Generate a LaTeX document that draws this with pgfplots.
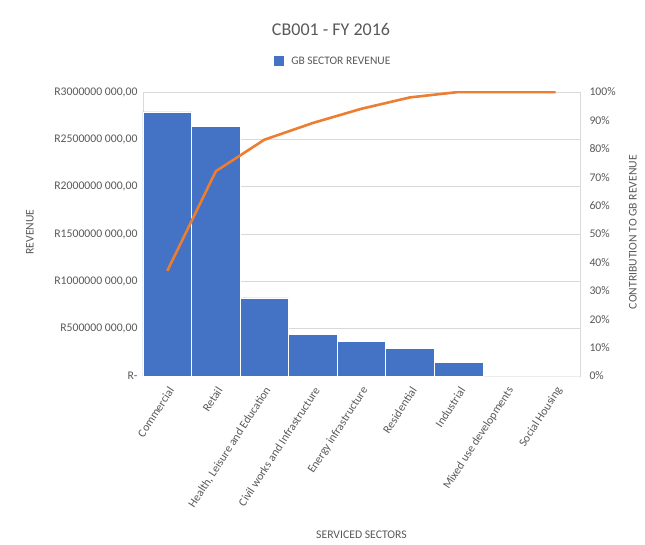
\documentclass[border=0pt]{standalone}
\usepackage{fontspec}
\setmainfont{Carlito}
\usepackage{pgfplots}
\pgfplotsset{compat=1.18}
\definecolor{barblue}{HTML}{4472C4}
\definecolor{lineorange}{HTML}{ED7D31}
\definecolor{txtgray}{HTML}{595959}
\definecolor{gridgray}{HTML}{D9D9D9}
\begin{document}
\begin{tikzpicture}
\path[use as bounding box] (-143pt,-168pt) rectangle (502pt,376pt);
\begin{axis}[
  scale only axis, width=437pt, height=284pt,
  xmin=-0.5, xmax=8.5, ymin=0, ymax=3000,
  axis line style={gridgray},
  ymajorgrids, grid style={gridgray, line width=0.8pt},
  major tick length=0pt,
  ytick={0,500,1000,1500,2000,2500,3000},
  yticklabels={R-,{R500000 000,00},{R1000000 000,00},{R1500000 000,00},{R2000000 000,00},{R2500000 000,00},{R3000000 000,00}},
  xtick={0,1,2,3,4,5,6,7,8},
  xticklabels={Commercial,Retail,{Health, Leisure and Education},Civil works and Infrastructure,Energy infrastructure,Residential,Industrial,Mixed use developments,Social Housing},
  x tick label style={rotate=57, anchor=east, xshift=-7pt, yshift=-10pt, inner sep=1pt},
  tick label style={font=\fontsize{11.7}{13}\selectfont, text=txtgray},
  yticklabel style={xshift=-2pt},
  ylabel={REVENUE}, xlabel={SERVICED SECTORS},
  label style={font=\fontsize{11.7}{13}\selectfont, text=txtgray},
  ylabel style={at={(axis description cs:-0.259,0.507)}, anchor=center},
  xlabel style={at={(axis description cs:0.5,-0.56)}, anchor=center},
  legend style={at={(axis description cs:0.435,1.109)}, anchor=center, draw=none, fill=none, font=\fontsize{11.5}{13}\selectfont, text=txtgray, legend cell align=left},
  legend image code/.code={\fill[barblue] (0pt,-4.5pt) rectangle (9pt,4.5pt); \path (15pt,0pt);},
]
\addplot[ybar, bar width=1, fill=barblue, draw=white, line width=0.6pt] coordinates {
 (0,2789) (1,2638) (2,826) (3,443) (4,369) (5,295) (6,144) (7,0) (8,0)};
\addlegendentry{GB SECTOR REVENUE}
\end{axis}
\begin{axis}[
  scale only axis, width=437pt, height=284pt,
  xmin=-0.5, xmax=8.5, ymin=0, ymax=100,
  axis x line=none, axis y line*=right,
  axis line style={gridgray},
  major tick length=0pt,
  ytick={0,10,20,30,40,50,60,70,80,90,100},
  yticklabels={0\%,10\%,20\%,30\%,40\%,50\%,60\%,70\%,80\%,90\%,100\%},
  tick label style={font=\fontsize{11.7}{13}\selectfont, text=txtgray},
  yticklabel style={xshift=6pt},
  ylabel={CONTRIBUTION TO GB REVENUE},
  label style={font=\fontsize{11.7}{13}\selectfont, text=txtgray},
  ylabel style={at={(axis description cs:1.121,0.507)}, anchor=center, rotate=0},
]
\addplot[lineorange, line width=2.6pt, line join=round] coordinates {
 (0,37.0) (1,72.1) (2,83.2) (3,89.1) (4,94.1) (5,98.1) (6,100) (7,100) (8,100)};
\end{axis}
\node[font=\fontsize{18}{21}\selectfont, text=txtgray] at (188pt,347pt) {CB001 - FY 2016};
\end{tikzpicture}
\end{document}
